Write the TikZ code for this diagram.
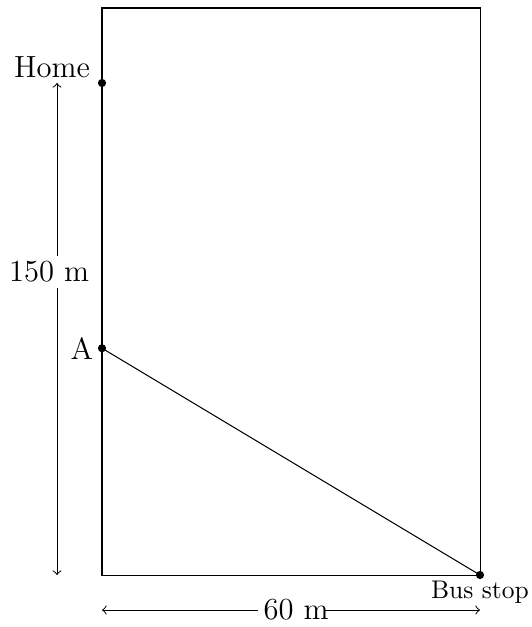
\documentclass[tikz,border=0pt]{standalone}
\begin{document}
\begin{tikzpicture}[x=0.868cm, y=0.868cm, every node/.style={font=\large},
  dot/.style={circle, fill=black, inner sep=0pt, minimum size=3.2pt}]
\useasboundingbox (-1.619,-0.825) rectangle (6.825,9.127);
% field
\draw (0,0) rectangle (6,9);
% points
\node[dot] (home) at (0,7.81) {};
\node[dot] (a) at (0,3.6) {};
\node[dot] (bus) at (6,0) {};
\node[anchor=south east, inner xsep=4.5pt, inner ysep=2pt] (homelbl) at (home.center) {Home};
\node[left] (albl) at (a) {A};
\node[below, font=\normalsize, inner sep=2pt] (buslbl) at (bus.center) {Bus stop};
\draw (a.center) -- (bus.center);
% dimensions
\coordinate (vtop) at (-0.714,7.81);
\coordinate (vbot) at (-0.714,0);
\draw[<->] (vtop) -- (vbot);
\node[fill=white, inner sep=2pt] (vlbl) at (-0.84,4.81) {150 m};
\coordinate (hleft) at (0,-0.556);
\coordinate (hmid) at (3.54,-0.556);
\coordinate (hright) at (6,-0.556);
\node[inner sep=2pt] (hlbl) at (3.08,-0.556) {60 m};
\draw[<-] (hleft) -- (hlbl.west);
\draw[->] (hmid) -- (hright);
\end{tikzpicture}
\end{document}
